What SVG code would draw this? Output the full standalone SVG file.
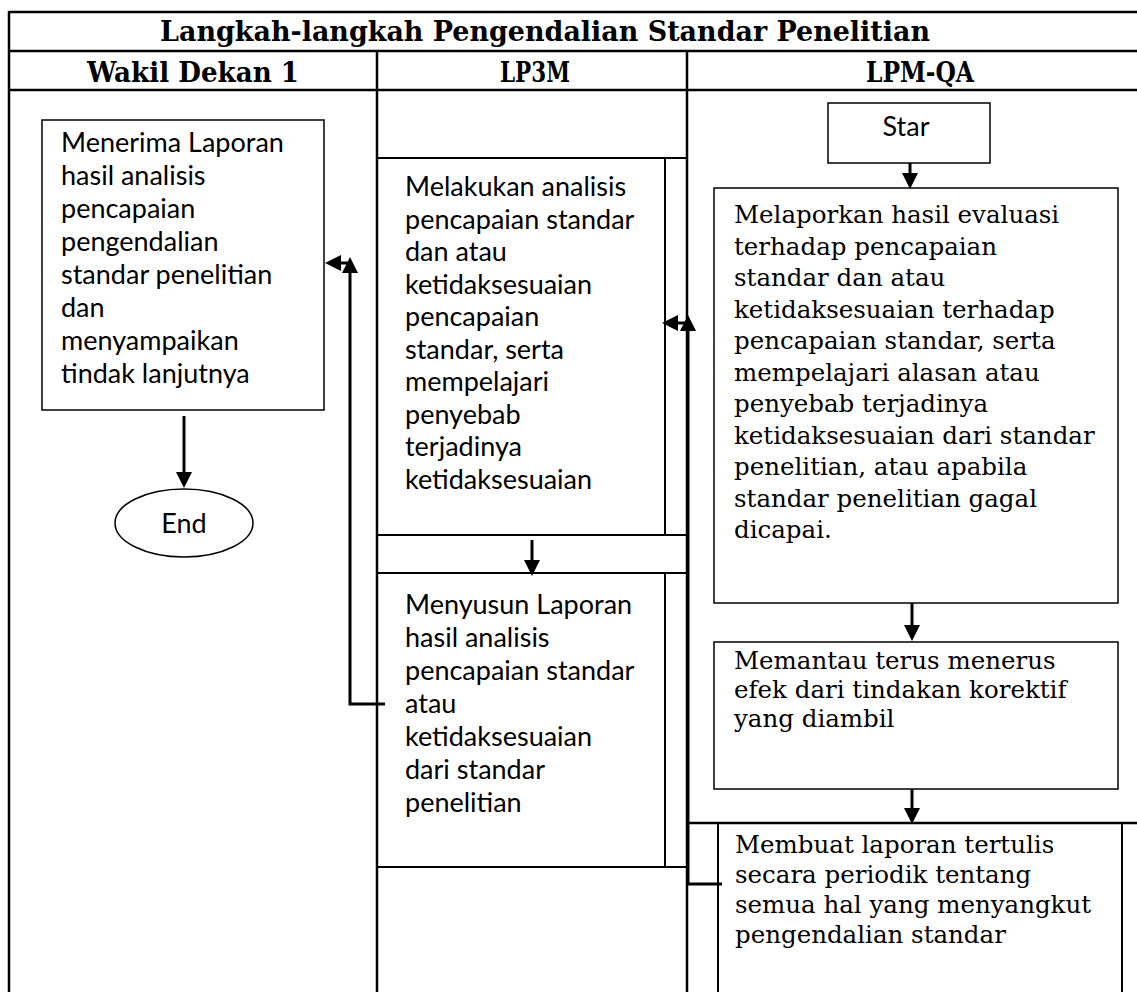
<svg xmlns="http://www.w3.org/2000/svg" width="1137" height="992" viewBox="0 0 1137 992">
<style>
.grid{stroke:#000;stroke-width:2.5;fill:none}
.cell{stroke:#000;stroke-width:2;fill:none}
.box{stroke:#000;stroke-width:1.5;fill:#fff}
.con{stroke:#000;stroke-width:3;fill:none}
.hd{font-family:"DejaVu Serif","Liberation Serif",serif;font-weight:bold;font-size:28px;fill:#000}
.sans{font-family:Lato,"Liberation Sans",sans-serif;font-size:27px;fill:#000}
.serif{font-family:"DejaVu Serif","Liberation Serif",serif;font-size:24.5px;fill:#000}
</style>
<defs>
<marker id="ah" viewBox="0 0 16 16" refX="0" refY="8" markerWidth="16" markerHeight="16" markerUnits="userSpaceOnUse" orient="auto">
<path d="M0,0 L16,8 L0,16 z" fill="#000"/>
</marker>
</defs>
<g id="table">
<line class="grid" x1="9" y1="12" x2="1137" y2="12"/>
<line class="grid" x1="9" y1="51" x2="1137" y2="51"/>
<line class="grid" x1="9" y1="90" x2="1137" y2="90"/>
<line class="grid" x1="9" y1="11" x2="9" y2="992"/>
<line class="grid" x1="377" y1="51" x2="377" y2="992"/>
<line class="grid" x1="687" y1="51" x2="687" y2="992"/>
<text class="hd" x="160" y="41" textLength="770" lengthAdjust="spacingAndGlyphs">Langkah-langkah Pengendalian Standar Penelitian</text>
<text class="hd" x="87" y="82" textLength="212" lengthAdjust="spacingAndGlyphs">Wakil Dekan 1</text>
<text class="hd" x="500" y="82" textLength="70" lengthAdjust="spacingAndGlyphs">LP3M</text>
<text class="hd" x="866" y="82" textLength="108" lengthAdjust="spacingAndGlyphs">LPM-QA</text>
</g>
<g id="node-menerima">
<rect class="box" x="42" y="120" width="282" height="290"/>
<text class="sans"><tspan x="61" y="152">Menerima Laporan</tspan><tspan x="61" y="185">hasil analisis</tspan><tspan x="61" y="218">pencapaian</tspan><tspan x="61" y="251">pengendalian</tspan><tspan x="61" y="284">standar penelitian</tspan><tspan x="61" y="317">dan</tspan><tspan x="61" y="350">menyampaikan</tspan><tspan x="61" y="383">tindak lanjutnya</tspan></text>
</g>
<g id="node-end">
<ellipse class="box" cx="184" cy="523" rx="69" ry="34"/>
<text class="sans" x="184" y="533" text-anchor="middle">End</text>
</g>
<g id="node-melakukan">
<line class="cell" x1="377" y1="158" x2="687" y2="158"/>
<line class="cell" x1="377" y1="535" x2="687" y2="535"/>
<line class="cell" x1="665" y1="158" x2="665" y2="535"/>
<text class="sans"><tspan x="405" y="196">Melakukan analisis</tspan><tspan x="405" y="228.5">pencapaian standar</tspan><tspan x="405" y="261">dan atau</tspan><tspan x="405" y="293.5">ketidaksesuaian</tspan><tspan x="405" y="326">pencapaian</tspan><tspan x="405" y="358.5">standar, serta</tspan><tspan x="405" y="391">mempelajari</tspan><tspan x="405" y="423.5">penyebab</tspan><tspan x="405" y="456">terjadinya</tspan><tspan x="405" y="488.5">ketidaksesuaian</tspan></text>
</g>
<g id="node-menyusun">
<line class="cell" x1="377" y1="573" x2="687" y2="573"/>
<line class="cell" x1="377" y1="867" x2="687" y2="867"/>
<line class="cell" x1="665" y1="573" x2="665" y2="867"/>
<text class="sans"><tspan x="405" y="614">Menyusun Laporan</tspan><tspan x="405" y="647">hasil analisis</tspan><tspan x="405" y="680">pencapaian standar</tspan><tspan x="405" y="713">atau</tspan><tspan x="405" y="746">ketidaksesuaian</tspan><tspan x="405" y="779">dari standar</tspan><tspan x="405" y="812">penelitian</tspan></text>
</g>
<g id="node-star">
<rect class="box" x="828" y="103" width="162" height="60"/>
<text class="sans" x="906" y="136" text-anchor="middle">Star</text>
</g>
<g id="node-melaporkan">
<rect class="box" x="714" y="188" width="404" height="415"/>
<text class="serif"><tspan x="734" y="223">Melaporkan hasil evaluasi</tspan><tspan x="734" y="254.5">terhadap pencapaian</tspan><tspan x="734" y="286">standar dan atau</tspan><tspan x="734" y="317.5">ketidaksesuaian terhadap</tspan><tspan x="734" y="349">pencapaian standar, serta</tspan><tspan x="734" y="380.5">mempelajari alasan atau</tspan><tspan x="734" y="412">penyebab terjadinya</tspan><tspan x="734" y="443.5">ketidaksesuaian dari standar</tspan><tspan x="734" y="475">penelitian, atau apabila</tspan><tspan x="734" y="506.5">standar penelitian gagal</tspan><tspan x="734" y="538">dicapai.</tspan></text>
</g>
<g id="node-memantau">
<rect class="box" x="714" y="642" width="404" height="147"/>
<text class="serif"><tspan x="734" y="669">Memantau terus menerus</tspan><tspan x="734" y="698">efek dari tindakan korektif</tspan><tspan x="734" y="727">yang diambil</tspan></text>
</g>
<g id="node-membuat">
<line class="grid" x1="687" y1="823" x2="1137" y2="823"/>
<line class="cell" x1="718" y1="823" x2="718" y2="992"/>
<line class="cell" x1="1122" y1="823" x2="1122" y2="992"/>
<text class="serif"><tspan x="735" y="853">Membuat laporan tertulis</tspan><tspan x="735" y="883">secara periodik tentang</tspan><tspan x="735" y="913">semua hal yang menyangkut</tspan><tspan x="735" y="943">pengendalian standar</tspan></text>
</g>
<g id="connectors">
<line class="con" x1="184" y1="416" x2="184" y2="472" marker-end="url(#ah)"/>
<line class="con" x1="910" y1="163" x2="910" y2="173" marker-end="url(#ah)"/>
<line class="con" x1="532" y1="540" x2="532" y2="560" marker-end="url(#ah)"/>
<line class="con" x1="912" y1="603" x2="912" y2="625" marker-end="url(#ah)"/>
<line class="con" x1="912" y1="789" x2="912" y2="808" marker-end="url(#ah)"/>
<path class="con" d="M385,704 H350 V273" marker-end="url(#ah)"/>
<path class="con" d="M350,263 H341" marker-end="url(#ah)"/>
<path class="con" d="M722,884 H688 V331" marker-end="url(#ah)"/>
<path class="con" d="M688,323 H678" marker-end="url(#ah)"/>
</g>
</svg>
